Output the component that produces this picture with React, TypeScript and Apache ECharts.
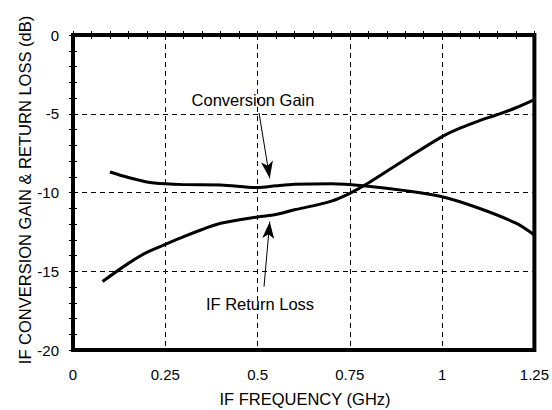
import React, { useEffect, useRef } from "react";
import * as echarts from "echarts";

const gainFreq = [0.1, 0.15, 0.2, 0.25, 0.3, 0.4, 0.5, 0.55, 0.6, 0.7, 0.8, 0.9, 1.0, 1.1, 1.2, 1.25];
const gainDb = [-8.7, -9.05, -9.33, -9.45, -9.5, -9.52, -9.68, -9.57, -9.48, -9.44, -9.6, -9.88, -10.27, -11.0, -11.95, -12.7];

const rlFreq = [0.08, 0.15, 0.2, 0.25, 0.3, 0.35, 0.4, 0.5, 0.55, 0.6, 0.65, 0.7, 0.75, 0.8, 0.9, 1.0, 1.05, 1.1, 1.15, 1.2, 1.25];
const rlDb = [-15.65, -14.5, -13.8, -13.3, -12.8, -12.35, -11.95, -11.55, -11.4, -11.1, -10.85, -10.55, -10.05, -9.4, -7.9, -6.45, -5.9, -5.45, -5.05, -4.62, -4.1];

const xTicks = { min: 0, max: 1.25, interval: 0.25 };
const yTicks = { min: -20, max: 0, interval: 5 };

const gainArrow = [[0.504, -4.95], [0.533, -9.1]];
const rlArrow = [[0.5175, -15.98], [0.533, -11.85]];

const FONT = "Liberation Sans, Arial, sans-serif";

export default function App() {
  const ref = useRef<HTMLDivElement>(null);
  useEffect(() => {
    if (!ref.current) return;
    const chart = echarts.init(ref.current, null, { renderer: "svg" });
    const tickCommon = {
      axisLine: { show: false },
      axisTick: { show: true, inside: true, length: 4, lineStyle: { color: "#000", width: 1 } },
      minorTick: { show: true, splitNumber: 5, length: 4, lineStyle: { color: "#000", width: 1 } },
    };
    const arrowLine = (pts: number[][]) => ({
      silent: true,
      symbol: ["none", "arrow"],
      symbolSize: [9, 17],
      label: { show: false },
      lineStyle: { color: "#000", width: 1, type: "solid" },
      emphasis: { disabled: true },
      data: [[{ coord: pts[0] }, { coord: pts[1] }]],
    });
    chart.setOption({
      animation: false,
      backgroundColor: "#fff",
      grid: {
        left: 73,
        top: 35,
        right: 15,
        bottom: 60,
        show: true,
        borderColor: "#000",
        borderWidth: 4,
        backgroundColor: "transparent",
      },
      xAxis: [
        {
          type: "value",
          position: "bottom",
          ...xTicks,
          ...tickCommon,
          splitLine: { show: true, lineStyle: { color: "#000", width: 1, type: [5, 4] } },
          axisLabel: { color: "#000", fontSize: 15, fontFamily: FONT, margin: 17 },
        },
        {
          type: "value",
          position: "top",
          ...xTicks,
          ...tickCommon,
          splitLine: { show: false },
          axisLabel: { show: false },
        },
      ],
      yAxis: [
        {
          type: "value",
          position: "left",
          ...yTicks,
          ...tickCommon,
          splitLine: { show: true, lineStyle: { color: "#000", width: 1, type: [5, 4] } },
          axisLabel: { color: "#000", fontSize: 15, fontFamily: FONT, margin: 14 },
        },
        {
          type: "value",
          position: "right",
          ...yTicks,
          ...tickCommon,
          splitLine: { show: false },
          axisLabel: { show: false },
        },
      ],
      series: [
        {
          name: "Conversion Gain",
          type: "line",
          smooth: 0.3,
          showSymbol: false,
          lineStyle: { color: "#000", width: 3 },
          data: gainFreq.map((f, i) => [f, gainDb[i]]),
          markLine: arrowLine(gainArrow),
        },
        {
          name: "IF Return Loss",
          type: "line",
          smooth: 0.3,
          showSymbol: false,
          lineStyle: { color: "#000", width: 3 },
          data: rlFreq.map((f, i) => [f, rlDb[i]]),
          markLine: arrowLine(rlArrow),
        },
      ],
      graphic: [
        {
          type: "text",
          x: 253,
          y: 100,
          style: { text: "Conversion Gain", font: `16.5px ${FONT}`, fill: "#000", align: "center", verticalAlign: "middle" },
        },
        {
          type: "text",
          x: 260,
          y: 304,
          style: { text: "IF Return Loss", font: `16.5px ${FONT}`, fill: "#000", align: "center", verticalAlign: "middle" },
        },
        {
          type: "text",
          x: 305,
          y: 399,
          style: { text: "IF FREQUENCY (GHz)", font: `16.5px ${FONT}`, fill: "#000", align: "center", verticalAlign: "middle" },
        },
        {
          type: "text",
          x: 25,
          y: 190,
          rotation: Math.PI / 2,
          style: { text: "IF CONVERSION GAIN & RETURN LOSS (dB)", font: `16.5px ${FONT}`, fill: "#000", align: "center", verticalAlign: "middle" },
        },
      ],
    });
    return () => chart.dispose();
  }, []);
  return <div ref={ref} style={{ width: 552, height: 410, position: "absolute", left: 0, top: 0 }} />;
}
